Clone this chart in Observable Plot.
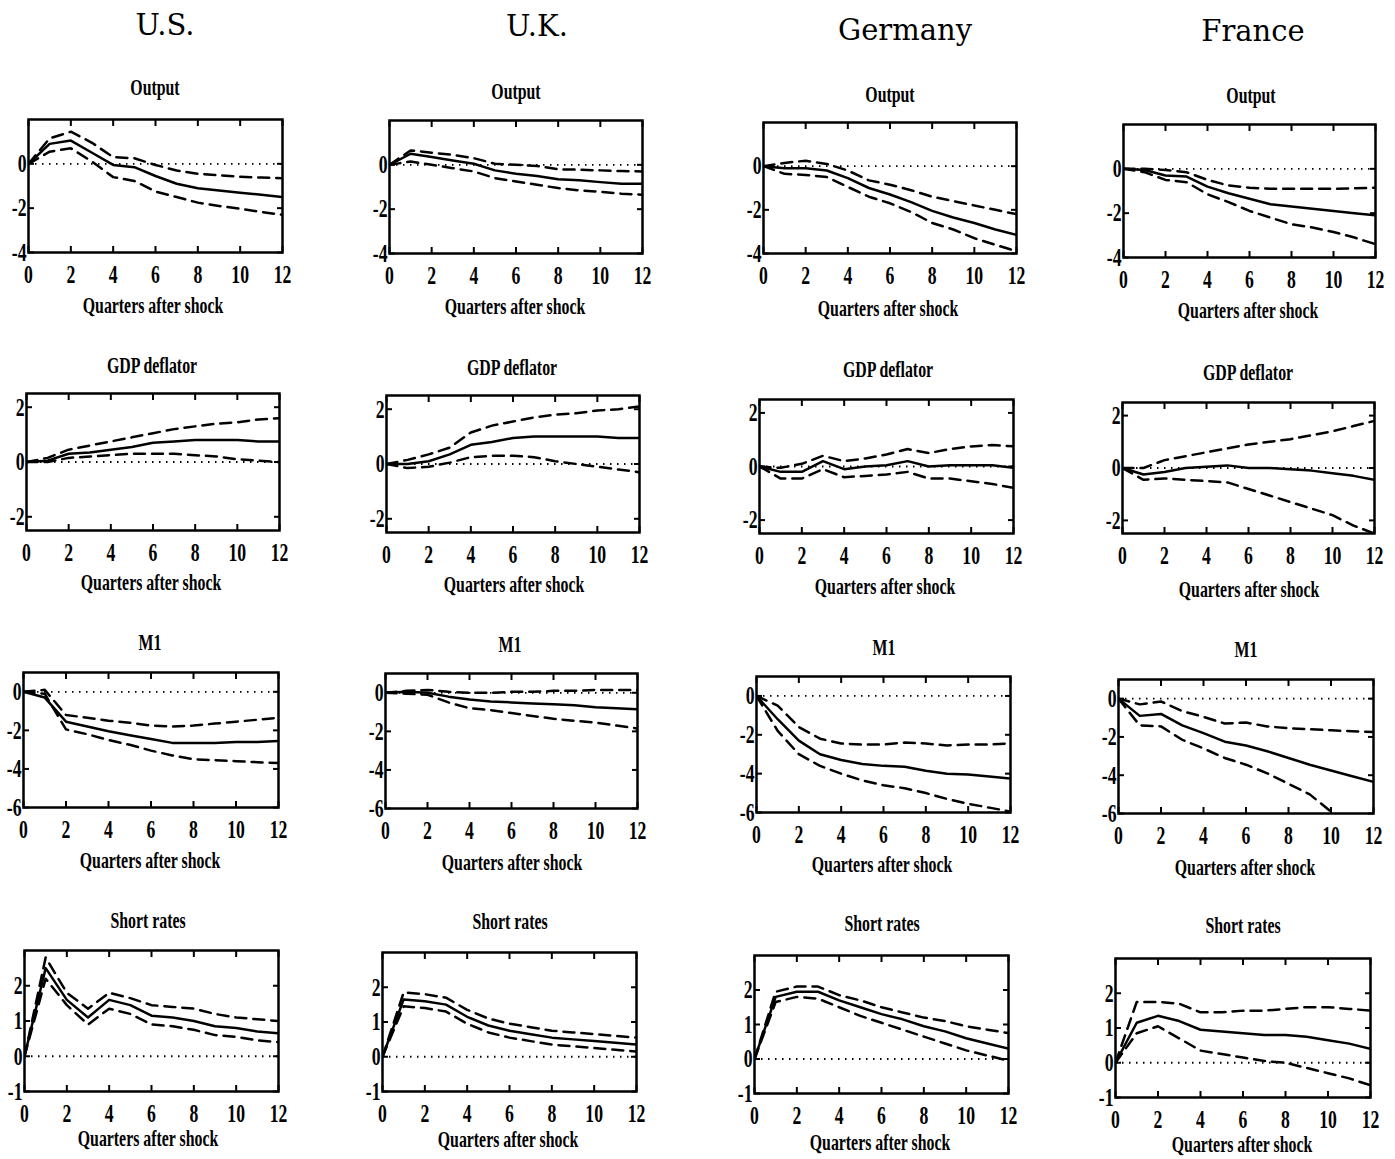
<!DOCTYPE html>
<html><head><meta charset="utf-8">
<script src="https://cdn.jsdelivr.net/npm/d3@7"></script>
<script src="https://cdn.jsdelivr.net/npm/@observablehq/plot@0.6"></script>
<style>
body{margin:0;background:#fff;}
#root{position:relative;width:1395px;height:1159px;overflow:hidden;background:#fff;}
.t{position:absolute;white-space:nowrap;font-family:"Liberation Serif",serif;color:#000;line-height:1;}
.country{font-family:"DejaVu Serif",serif;font-size:29px;transform:translateX(-50%);}
.lab{font-size:24px;font-weight:bold;transform:translateX(-50%) scaleX(0.66);transform-origin:50% 50%;}
.panel{position:absolute;}
</style></head><body><div id="root"></div><script>
// ---------- data ----------
const quarters = [0,1,2,3,4,5,6,7,8,9,10,11,12];
const xTicks = [0,2,4,6,8,10,12];
const countries = ["U.S.","U.K.","Germany","France"];
const variables = ["Output","GDP deflator","M1","Short rates"];
const xLabel = "Quarters after shock";
const yTicksOutput = [-4,-2,0];
const yTicksGdp = [-2,0,2];
const yTicksM1 = [-6,-4,-2,0];
const yTicksRates = [-1,0,1,2];

// Output
const usOutputMid = [0,0.9,1.05,0.5,-0.05,-0.15,-0.55,-0.9,-1.1,-1.2,-1.3,-1.4,-1.5];
const usOutputHi  = [0,1.15,1.45,0.95,0.3,0.25,-0.05,-0.3,-0.45,-0.52,-0.58,-0.62,-0.65];
const usOutputLo  = [0,0.55,0.7,0.1,-0.6,-0.77,-1.25,-1.5,-1.75,-1.9,-2.03,-2.17,-2.3];
const ukOutputMid = [0,0.5,0.35,0.2,0.05,-0.25,-0.4,-0.5,-0.65,-0.7,-0.78,-0.85,-0.85];
const ukOutputHi  = [0,0.65,0.55,0.45,0.3,0.05,0.0,-0.05,-0.2,-0.22,-0.25,-0.28,-0.3];
const ukOutputLo  = [0,0.15,0.0,-0.15,-0.3,-0.6,-0.75,-0.9,-1.05,-1.15,-1.22,-1.3,-1.35];
const deOutputMid = [0,-0.1,-0.1,-0.2,-0.55,-1.0,-1.3,-1.65,-2.05,-2.35,-2.6,-2.9,-3.15];
const deOutputHi  = [0,0.15,0.25,0.1,-0.2,-0.65,-0.85,-1.1,-1.4,-1.6,-1.8,-2.0,-2.2];
const deOutputLo  = [0,-0.35,-0.4,-0.5,-0.95,-1.4,-1.7,-2.1,-2.6,-2.9,-3.3,-3.6,-3.9];
const frOutputMid = [0,-0.05,-0.3,-0.35,-0.8,-1.1,-1.35,-1.6,-1.7,-1.8,-1.9,-2.0,-2.1];
const frOutputHi  = [0,0,-0.05,-0.15,-0.5,-0.75,-0.85,-0.9,-0.9,-0.9,-0.9,-0.88,-0.85];
const frOutputLo  = [0,-0.15,-0.5,-0.6,-1.15,-1.5,-1.9,-2.2,-2.5,-2.65,-2.85,-3.1,-3.4];

// GDP deflator
const usGdpMid = [0,0.05,0.3,0.35,0.45,0.55,0.7,0.75,0.8,0.8,0.8,0.75,0.75];
const usGdpHi  = [0,0.15,0.45,0.6,0.75,0.9,1.05,1.2,1.3,1.4,1.45,1.55,1.6];
const usGdpLo  = [0,0.0,0.15,0.2,0.25,0.3,0.3,0.3,0.25,0.2,0.1,0.05,0.0];
const ukGdpMid = [0,0.0,0.1,0.35,0.7,0.8,0.95,1.0,1.0,1.0,1.0,0.95,0.95];
const ukGdpHi  = [0,0.15,0.35,0.6,1.15,1.4,1.55,1.7,1.8,1.85,1.95,2.0,2.1];
const ukGdpLo  = [0,-0.15,-0.1,0.05,0.25,0.3,0.3,0.25,0.1,0.0,-0.1,-0.2,-0.3];
const deGdpMid = [0,-0.2,-0.2,0.2,-0.1,0.0,0.05,0.2,0.0,0.05,0.05,0.05,-0.05];
const deGdpHi  = [0,-0.05,0.1,0.4,0.2,0.3,0.45,0.65,0.5,0.65,0.75,0.8,0.75];
const deGdpLo  = [0,-0.45,-0.45,-0.1,-0.4,-0.35,-0.3,-0.2,-0.45,-0.45,-0.55,-0.65,-0.8];
const frGdpMid = [0,-0.25,-0.15,0.0,0.05,0.1,0.0,0.0,-0.05,-0.1,-0.2,-0.3,-0.45];
const frGdpHi  = [0,0.0,0.3,0.45,0.6,0.75,0.9,1.0,1.1,1.25,1.4,1.6,1.8];
const frGdpLo  = [0,-0.45,-0.4,-0.45,-0.5,-0.55,-0.8,-1.05,-1.3,-1.55,-1.8,-2.2,-2.5];

// M1
const usM1Mid = [0,-0.3,-1.55,-1.8,-2.05,-2.25,-2.45,-2.65,-2.65,-2.65,-2.6,-2.6,-2.55];
const usM1Hi  = [0,0.1,-1.2,-1.35,-1.5,-1.6,-1.75,-1.8,-1.75,-1.65,-1.55,-1.45,-1.35];
const usM1Lo  = [0,-0.1,-1.95,-2.2,-2.5,-2.75,-3.05,-3.3,-3.5,-3.55,-3.6,-3.65,-3.7];
const ukM1Mid = [0,0.05,0.0,-0.2,-0.35,-0.45,-0.5,-0.55,-0.6,-0.65,-0.75,-0.8,-0.85];
const ukM1Hi  = [0,0.1,0.15,0.05,0.0,0.0,0.05,0.05,0.1,0.1,0.15,0.15,0.15];
const ukM1Lo  = [0,-0.05,-0.1,-0.5,-0.8,-0.9,-1.05,-1.2,-1.35,-1.45,-1.55,-1.7,-1.85];
const deM1Mid = [0,-1.2,-2.3,-3.0,-3.3,-3.5,-3.6,-3.65,-3.85,-4.0,-4.05,-4.15,-4.25];
const deM1Hi  = [0,-0.5,-1.6,-2.2,-2.45,-2.5,-2.5,-2.4,-2.45,-2.55,-2.5,-2.5,-2.45];
const deM1Lo  = [0,-1.8,-3.0,-3.6,-4.0,-4.35,-4.6,-4.75,-5.0,-5.3,-5.55,-5.75,-5.95];
const frM1Mid = [0,-0.9,-0.8,-1.4,-1.8,-2.25,-2.45,-2.75,-3.1,-3.45,-3.75,-4.05,-4.35];
const frM1Hi  = [0,-0.3,-0.15,-0.65,-0.95,-1.3,-1.25,-1.45,-1.55,-1.6,-1.65,-1.7,-1.75];
const frM1Lo  = [0,-1.4,-1.45,-2.15,-2.6,-3.1,-3.45,-3.9,-4.45,-5.0,-5.9,-6.6,-7.2];

// Short rates
const usRatesMid = [0,2.5,1.6,1.1,1.6,1.45,1.15,1.1,1.0,0.85,0.8,0.7,0.65];
const usRatesHi  = [0,2.8,1.8,1.35,1.8,1.65,1.45,1.4,1.35,1.2,1.1,1.05,1.0];
const usRatesLo  = [0,2.2,1.45,0.9,1.35,1.2,0.9,0.85,0.75,0.6,0.55,0.45,0.4];
const ukRatesMid = [0,1.65,1.6,1.5,1.15,0.9,0.75,0.65,0.55,0.5,0.45,0.4,0.35];
const ukRatesHi  = [0,1.85,1.8,1.7,1.35,1.1,0.95,0.85,0.75,0.7,0.65,0.6,0.55];
const ukRatesLo  = [0,1.45,1.4,1.3,0.95,0.7,0.55,0.45,0.35,0.3,0.25,0.2,0.15];
const deRatesMid = [0,1.8,1.95,1.95,1.7,1.5,1.3,1.15,0.95,0.8,0.6,0.45,0.3];
const deRatesHi  = [0,1.95,2.1,2.1,1.85,1.7,1.5,1.35,1.2,1.1,0.95,0.85,0.75];
const deRatesLo  = [0,1.65,1.8,1.75,1.5,1.25,1.05,0.85,0.65,0.45,0.25,0.1,-0.05];
const frRatesMid = [0,1.15,1.35,1.2,0.95,0.9,0.85,0.8,0.8,0.75,0.65,0.55,0.4];
const frRatesHi  = [0,1.75,1.75,1.7,1.45,1.45,1.5,1.5,1.55,1.6,1.6,1.55,1.5];
const frRatesLo  = [0,0.85,1.05,0.7,0.35,0.25,0.15,0.05,0.0,-0.15,-0.3,-0.45,-0.65];

// ---------- layout (frame boxes: left, top, right, bottom) ----------
const frames = [
  [[28,119,282,252],[389,120,642,253],[763,122,1016,253],[1123,124,1375,257]],
  [[26,393,279,530],[386,395,639,532],[759,399,1013,533],[1122,402,1374,533]],
  [[23,672,278,807],[385,673,637,808],[756,676,1010,812],[1118,679,1373,813]],
  [[24,950,278,1091],[382,952,636,1091],[754,955,1008,1093],[1115,958,1370,1097]]
];
const titlePos = [
  [[155,95],[516,99],[890,102],[1251,103]],
  [[152,373],[512,375],[888,377],[1248,380]],
  [[150,650],[510,652],[884,655],[1246,657]],
  [[148,928],[510,929],[882,931],[1243,933]]
];
const xLabelPos = [
  [[153,313],[515,314],[888,316],[1248,318]],
  [[151,590],[514,592],[885,594],[1249,597]],
  [[150,868],[512,870],[882,872],[1245,875]],
  [[148,1146],[508,1147],[880,1150],[1242,1152]]
];
const countryPos = [[165,35],[537,36],[905,40],[1253,41]];

const panelData = [
  [[usOutputMid,usOutputHi,usOutputLo],[ukOutputMid,ukOutputHi,ukOutputLo],[deOutputMid,deOutputHi,deOutputLo],[frOutputMid,frOutputHi,frOutputLo]],
  [[usGdpMid,usGdpHi,usGdpLo],[ukGdpMid,ukGdpHi,ukGdpLo],[deGdpMid,deGdpHi,deGdpLo],[frGdpMid,frGdpHi,frGdpLo]],
  [[usM1Mid,usM1Hi,usM1Lo],[ukM1Mid,ukM1Hi,ukM1Lo],[deM1Mid,deM1Hi,deM1Lo],[frM1Mid,frM1Hi,frM1Lo]],
  [[usRatesMid,usRatesHi,usRatesLo],[ukRatesMid,ukRatesHi,ukRatesLo],[deRatesMid,deRatesHi,deRatesLo],[frRatesMid,frRatesHi,frRatesLo]]
];
const yDomains = [[-4,2],[-2.5,2.5],[-6,1],[-1,3]];
const yTicksByRow = [yTicksOutput, yTicksGdp, yTicksM1, yTicksRates];

const root = document.getElementById("root");

function addText(cls, text, x, baseline, asc) {
  const d = document.createElement("div");
  d.className = "t " + cls;
  d.textContent = text;
  d.style.left = x + "px";
  d.style.top = (baseline - asc) + "px";
  root.appendChild(d);
}

countries.forEach((c, j) => addText("country", c, countryPos[j][0], countryPos[j][1], 24.5));

const ml = 36, mr = 12, mt = 8, mb = 40;
const plain = d => String(d);
const blank = () => "";
for (let r = 0; r < 4; r++) {
  for (let c = 0; c < 4; c++) {
    const [L, T, R, B] = frames[r][c];
    const [mid, hi, lo] = panelData[r][c];
    const rows = quarters.map((q, i) => ({q, mid: mid[i], hi: hi[i], lo: lo[i]}));
    const yTicks = yTicksByRow[r];
    const chart = Plot.plot({
      width: (R - L) + ml + mr,
      height: (B - T) + mt + mb,
      marginLeft: ml, marginRight: mr, marginTop: mt, marginBottom: mb,
      x: {domain: [0, 12]},
      y: {domain: yDomains[r]},
      style: {fontFamily: "'Liberation Serif', serif", fontSize: "26px", fontWeight: "bold", background: "transparent", color: "#000", overflow: "visible"},
      marks: [
        Plot.ruleY([0], {stroke: "#000", strokeWidth: 1.8, strokeDasharray: "1.5,5.5"}),
        Plot.line(rows, {x: "q", y: "hi", stroke: "#000", strokeWidth: 2.5, strokeDasharray: "11,7", clip: true}),
        Plot.line(rows, {x: "q", y: "lo", stroke: "#000", strokeWidth: 2.5, strokeDasharray: "11,7", clip: true}),
        Plot.line(rows, {x: "q", y: "mid", stroke: "#000", strokeWidth: 2.5, clip: true}),
        Plot.frame({stroke: "#000", strokeWidth: 2.5}),
        Plot.axisX(xTicks, {anchor: "bottom", tickSize: 0, tickPadding: 12, label: null, tickFormat: plain}),
        Plot.axisX(xTicks, {anchor: "bottom", tickSize: -6, tickFormat: blank, label: null, strokeWidth: 2}),
        Plot.axisX(xTicks, {anchor: "top", tickSize: -6, tickFormat: blank, label: null, strokeWidth: 2}),
        Plot.axisY(yTicks, {anchor: "left", tickSize: 0, tickPadding: 2, label: null, tickFormat: plain}),
        Plot.axisY(yTicks, {anchor: "left", tickSize: -6, tickFormat: blank, label: null, strokeWidth: 2}),
        Plot.axisY(yTicks, {anchor: "right", tickSize: -6, tickFormat: blank, label: null, strokeWidth: 2})
      ]
    });
    // condense tick label glyphs horizontally (keep Plot's own positioning)
    chart.querySelectorAll("text").forEach(t => {
      if (!t.textContent) return;
      const tr = t.getAttribute("transform");
      if (tr) t.setAttribute("transform", tr + " scale(0.68,1)");
    });
    const wrap = document.createElement("div");
    wrap.className = "panel";
    wrap.style.left = (L - ml) + "px";
    wrap.style.top = (T - mt) + "px";
    wrap.appendChild(chart);
    root.appendChild(wrap);

    addText("lab", variables[r], titlePos[r][c][0], titlePos[r][c][1], 20);
    addText("lab", xLabel, xLabelPos[r][c][0], xLabelPos[r][c][1], 20);
  }
}
</script></body></html>
